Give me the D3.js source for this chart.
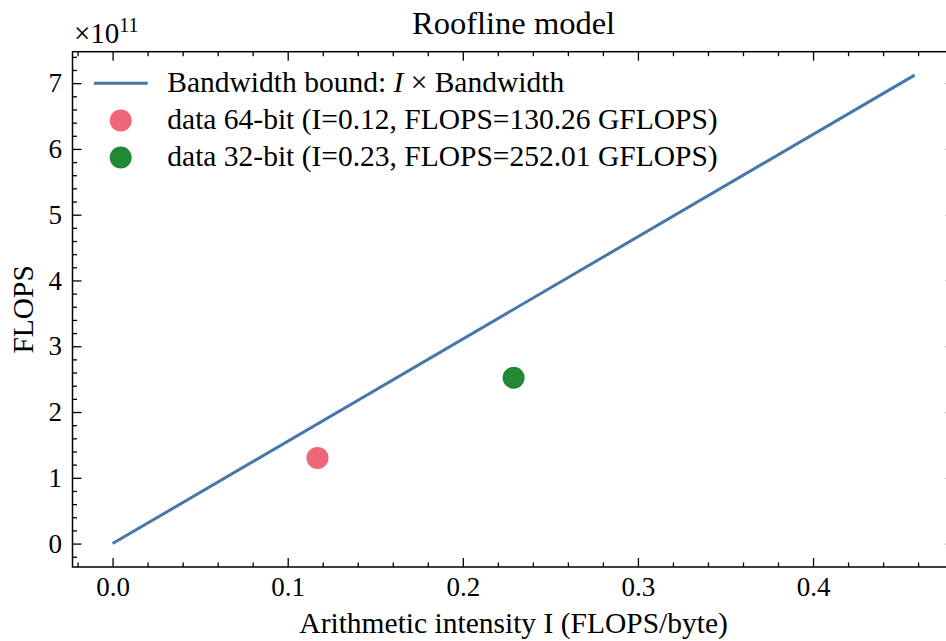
<!DOCTYPE html>
<html>
<head>
<meta charset="utf-8">
<script src="https://cdn.jsdelivr.net/npm/d3@7"></script>
<style>
  body { margin: 0; background: #fff; }
  text { font-family: "Liberation Serif", "DejaVu Serif", serif; fill: #000; }
</style>
</head>
<body>
<script>
// measured data
var intensity = [0.117, 0.229];
var flops = [130.26e9, 252.01e9];
var pointLabels = ['data 64-bit (I=0.12, FLOPS=130.26 GFLOPS)',
                   'data 32-bit (I=0.23, FLOPS=252.01 GFLOPS)'];
var pointColors = ['#EE6677', '#228833'];
var roofI = [0, 0.458];
var bandwidth = 1.555e12;
var xTicks = [0.0, 0.1, 0.2, 0.3, 0.4];
var yTicks = [0, 1, 2, 3, 4, 5, 6, 7];

var width = 946,
    height = 641,
    pLeft = 72.5,
    pRight = 954.7,
    pTop = 51.7,
    pBottom = 567,
    tickFs = 27,
    labFs = 29.5;

var svg = d3.select('body').append('svg')
    .attr('width', width)
    .attr('height', height);

// matplotlib style 5% margins
var xmax = d3.max(roofI), xmin = 0;
var ymax = d3.max(roofI) * bandwidth, ymin = 0;
var xm = (xmax - xmin) * 0.05, ym = (ymax - ymin) * 0.05;

var x = d3.scaleLinear().domain([xmin - xm, xmax + xm]).range([pLeft, pRight]);
var y = d3.scaleLinear().domain([(ymin - ym) / 1e11, (ymax + ym) / 1e11]).range([pBottom, pTop]);

var xMinor = d3.range(-0.02, 0.481, 0.02).filter(function(v) { return Math.abs(v * 10 - Math.round(v * 10)) > 1e-6; });
var yMinor = d3.range(-0.2, 7.45, 0.2).filter(function(v) { return Math.abs(v - Math.round(v)) > 1e-6; });

function styleAxis(g) {
    g.select('.domain').remove();
    g.selectAll('.tick line').attr('stroke', '#000').attr('stroke-width', 1.3);
    g.selectAll('.tick text').style('font-size', tickFs + 'px').attr('font-family', null).attr('fill', '#000');
}

// bottom
svg.append('g').attr('transform', 'translate(0,' + pBottom + ')')
    .call(d3.axisBottom(x).tickValues(xTicks).tickSizeInner(-9).tickSizeOuter(0).tickPadding(10).tickFormat(d3.format('.1f')))
    .call(styleAxis);
svg.append('g').attr('transform', 'translate(0,' + pBottom + ')')
    .call(d3.axisBottom(x).tickValues(xMinor).tickSizeInner(-4.5).tickSizeOuter(0).tickFormat(''))
    .call(styleAxis);
// top
svg.append('g').attr('transform', 'translate(0,' + pTop + ')')
    .call(d3.axisTop(x).tickValues(xTicks).tickSizeInner(-9).tickSizeOuter(0).tickFormat(''))
    .call(styleAxis);
svg.append('g').attr('transform', 'translate(0,' + pTop + ')')
    .call(d3.axisTop(x).tickValues(xMinor).tickSizeInner(-4.5).tickSizeOuter(0).tickFormat(''))
    .call(styleAxis);
// left
svg.append('g').attr('transform', 'translate(' + pLeft + ',0)')
    .call(d3.axisLeft(y).tickValues(yTicks).tickSizeInner(-9).tickSizeOuter(0).tickPadding(10.5).tickFormat(d3.format('d')))
    .call(styleAxis);
svg.append('g').attr('transform', 'translate(' + pLeft + ',0)')
    .call(d3.axisLeft(y).tickValues(yMinor).tickSizeInner(-4.5).tickSizeOuter(0).tickFormat(''))
    .call(styleAxis);
// right
svg.append('g').attr('transform', 'translate(' + pRight + ',0)')
    .call(d3.axisRight(y).tickValues(yTicks).tickSizeInner(-9).tickSizeOuter(0).tickFormat(''))
    .call(styleAxis);
svg.append('g').attr('transform', 'translate(' + pRight + ',0)')
    .call(d3.axisRight(y).tickValues(yMinor).tickSizeInner(-4.5).tickSizeOuter(0).tickFormat(''))
    .call(styleAxis);

// frame
svg.append('rect')
    .attr('x', pLeft).attr('y', pTop)
    .attr('width', pRight - pLeft).attr('height', pBottom - pTop)
    .attr('fill', 'none').attr('stroke', '#000').attr('stroke-width', 1.5);

// roofline
var line = d3.line()
    .x(function(d) { return x(d); })
    .y(function(d) { return y(d * bandwidth / 1e11); });
svg.append('path')
    .datum(roofI)
    .attr('d', line)
    .attr('fill', 'none')
    .attr('stroke', '#4477AA')
    .attr('stroke-width', 3);

// points
svg.selectAll('.pt')
    .data(intensity)
    .enter().append('circle')
    .attr('class', 'pt')
    .attr('cx', function(d) { return x(d); })
    .attr('cy', function(d, i) { return y(flops[i] / 1e11); })
    .attr('r', 11)
    .attr('fill', function(d, i) { return pointColors[i]; });

// titles / labels
svg.append('text').attr('x', (pLeft + pRight) / 2).attr('y', 34)
    .attr('text-anchor', 'middle').style('font-size', '32.5px').text('Roofline model');
svg.append('text').attr('x', (pLeft + pRight) / 2).attr('y', 633)
    .attr('text-anchor', 'middle').style('font-size', labFs + 'px').text('Arithmetic intensity I (FLOPS/byte)');
svg.append('text')
    .attr('transform', 'translate(33,' + (pTop + pBottom) / 2 + ') rotate(-90)')
    .attr('text-anchor', 'middle').style('font-size', labFs + 'px').text('FLOPS');

// offset text x10^11
var off = svg.append('text').attr('x', 74).attr('y', 43).style('font-size', '29px');
off.append('tspan').text('\u00d710');
off.append('tspan').attr('dy', -11).style('font-size', '20px').text('11');

// legend
var rowY = [83.3, 120.5, 157.5];
var leg = svg.append('g');
leg.append('line')
    .attr('x1', 94).attr('x2', 147.7)
    .attr('y1', rowY[0]).attr('y2', rowY[0])
    .attr('stroke', '#4477AA').attr('stroke-width', 3);
var t0 = leg.append('text').attr('x', 167.3).attr('y', rowY[0] + 8.6).style('font-size', labFs + 'px');
t0.append('tspan').text('Bandwidth bound: ');
t0.append('tspan').style('font-style', 'italic').text('I');
t0.append('tspan').text(' \u00d7 Bandwidth');

pointLabels.forEach(function(lab, i) {
    leg.append('circle')
        .attr('cx', 120.7).attr('cy', rowY[i + 1]).attr('r', 11)
        .attr('fill', pointColors[i]);
    leg.append('text')
        .attr('x', 167.3).attr('y', rowY[i + 1] + 8.6)
        .style('font-size', labFs + 'px')
        .text(lab);
});
</script>
</body>
</html>
